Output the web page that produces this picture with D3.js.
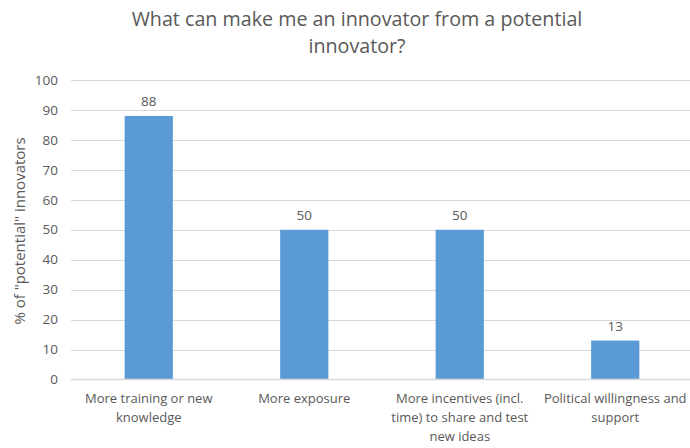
<!DOCTYPE html>
<html><head><meta charset="utf-8">
<script src="https://cdn.jsdelivr.net/npm/d3@7"></script>
<style>body{margin:0;background:#fff}svg{display:block}text{font-family:"Open Sans",sans-serif;fill:#595959}</style>
</head><body><svg id="c" width="690" height="448"></svg>
<script>
const categories = ["More training or new knowledge","More exposure","More incentives (incl. time) to share and test new ideas","Political willingness and support"];
const values = [88,50,50,13];
const yTicks = [0,10,20,30,40,50,60,70,80,90,100];
const title = ["What can make me an innovator from a potential","innovator?"];
const yLabel = "% of  \"potential\" innovators";

const svg = d3.select("#c");
const x = d3.scaleBand().domain(categories).range([71,693]).paddingInner(0.69).paddingOuter(0.345);
const y = d3.scaleLinear().domain([0,100]).range([379.5,80]);

svg.append("g").selectAll("line").data(yTicks.filter(d=>d>0)).join("line")
  .attr("x1",71).attr("x2",690).attr("y1",d=>Math.round(y(d))+0.5).attr("y2",d=>Math.round(y(d))+0.5)
  .attr("stroke","#d9d9d9").attr("stroke-width",1);

svg.append("g").selectAll("rect").data(values).join("rect")
  .attr("x",(d,i)=>x(categories[i])).attr("width",x.bandwidth())
  .attr("y",d=>y(d)).attr("height",d=>y(0)-y(d)).attr("fill","#5b9bd5");

svg.append("line").attr("x1",71).attr("x2",690).attr("y1",y(0)).attr("y2",y(0)).attr("stroke","#d9d9d9").attr("stroke-width",1.5);

svg.append("g").selectAll("text").data(yTicks).join("text")
  .attr("x",58).attr("y",d=>y(d)).attr("dy","0.35em").attr("text-anchor","end")
  .style("font-size","13.5px").text(d=>d);

svg.append("g").selectAll("text").data(values).join("text")
  .attr("x",(d,i)=>x(categories[i])+x.bandwidth()/2).attr("y",d=>y(d)-10)
  .attr("text-anchor","middle").style("font-size","13.5px").text(d=>d);

svg.append("text").attr("transform","translate(25,231) rotate(-90)").attr("text-anchor","middle")
  .style("font-size","15px").text(yLabel);

const tg = svg.append("text").attr("text-anchor","middle").style("font-size","19.7px");
title.forEach((t,i)=>tg.append("tspan").attr("x",357).attr("y",26+i*27).text(t));

const maxW = 158;
categories.forEach(c=>{
  const t = svg.append("text").attr("text-anchor","middle").style("font-size","13px");
  const cx = x(c)+x.bandwidth()/2;
  const words = c.split(" ");
  let lines=[], cur=[];
  const probe = svg.append("text").style("font-size","13px");
  words.forEach(w=>{
    const test = cur.concat([w]).join(" ");
    probe.text(test);
    if (probe.node().getComputedTextLength()>maxW && cur.length){lines.push(cur.join(" ")); cur=[w];}
    else cur.push(w);
  });
  lines.push(cur.join(" "));
  probe.remove();
  lines.forEach((l,i)=>t.append("tspan").attr("x",cx).attr("y",403+i*19).text(l));
});
</script></body></html>
